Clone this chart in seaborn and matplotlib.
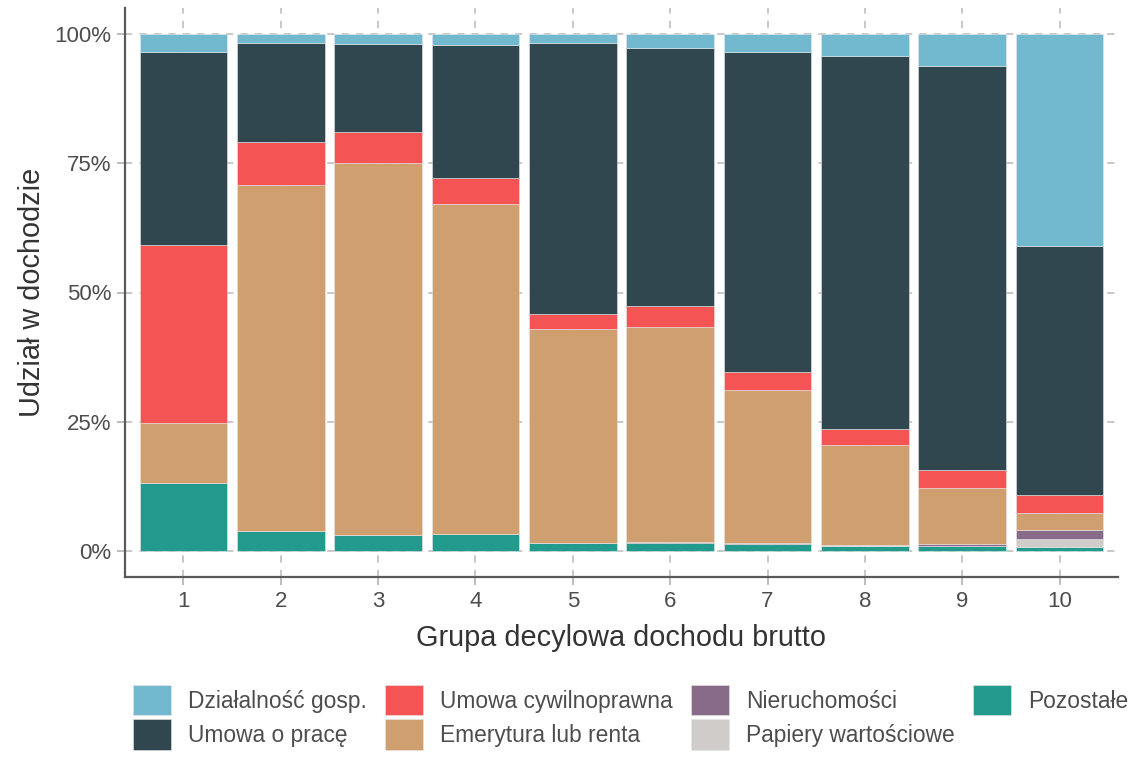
import matplotlib
matplotlib.use("Agg")
import matplotlib.pyplot as plt
import seaborn as sns
import pandas as pd
from matplotlib.ticker import PercentFormatter

groups = [1, 2, 3, 4, 5, 6, 7, 8, 9, 10]
categories = ["Działalność gosp.", "Umowa o pracę", "Umowa cywilnoprawna",
              "Emerytura lub renta", "Nieruchomości", "Papiery wartościowe", "Pozostałe"]
colors = ["#72b9cf", "#30474f", "#f55454", "#cf9f70", "#876b88", "#d0ccca", "#239b8c"]

dzialalnosc = [3.5, 1.7, 1.9, 2.1, 1.7, 2.7, 3.5, 4.2, 6.2, 41.1]
umowa_o_prace = [37.4, 19.3, 17.0, 25.7, 52.4, 50.0, 61.8, 72.1, 78.2, 48.0]
umowa_cywilna = [34.4, 8.3, 6.0, 5.0, 3.0, 3.9, 3.6, 3.2, 3.4, 3.6]
emerytura = [11.5, 66.8, 71.9, 63.8, 41.3, 41.7, 29.6, 19.3, 10.9, 3.3]
nieruchomosci = [0.0, 0.0, 0.1, 0.1, 0.1, 0.1, 0.1, 0.1, 0.3, 1.6]
papiery = [0.1, 0.0, 0.0, 0.0, 0.0, 0.0, 0.0, 0.1, 0.1, 1.6]
pozostale = [13.1, 3.9, 3.1, 3.3, 1.5, 1.6, 1.4, 1.0, 0.9, 0.8]

series = [dzialalnosc, umowa_o_prace, umowa_cywilna, emerytura,
          nieruchomosci, papiery, pozostale]

rows = []
for cat, vals in zip(categories, series):
    for g, v in zip(groups, vals):
        rows.append({"grupa": g, "udzial": v, "zrodlo": cat})
df = pd.DataFrame(rows)

sns.set_theme(style="white")
plt.rcParams["font.family"] = ["Liberation Sans", "DejaVu Sans"]
text_col = "#4d4d4d"

fig = plt.figure(figsize=(11.34, 7.67), dpi=100)
ax = fig.add_axes([125 / 1134, 1 - 577 / 767, (1118 - 125) / 1134, (577 - 8) / 767])

sns.histplot(data=df, x="grupa", weights="udzial", hue="zrodlo",
             hue_order=categories, palette=colors, multiple="stack",
             discrete=True, shrink=0.9, alpha=1, edgecolor="#e6e6e6",
             linewidth=0.4, ax=ax, zorder=2)

ax.set_xlim(0.4, 10.6)
ax.set_ylim(-5, 105)
ax.set_xticks(groups)
ax.set_xticklabels([str(g) for g in groups])
ax.set_yticks([0, 25, 50, 75, 100])
ax.yaxis.set_major_formatter(PercentFormatter(xmax=100, decimals=0))

ax.grid(True, axis="both", color="#c4c4c4", linestyle=(0, (4, 4)), linewidth=1.3, zorder=0)
ax.set_axisbelow(True)

for s in ["top", "right"]:
    ax.spines[s].set_visible(False)
for s in ["left", "bottom"]:
    ax.spines[s].set_color("#5a5a5a")
    ax.spines[s].set_linewidth(1.6)

ax.tick_params(axis="both", which="major", length=6, width=1.3, color="#b8b8b8",
               labelsize=16, labelcolor=text_col, pad=4, direction="out",
               bottom=True, left=True)

ax.set_xlabel("Grupa decylowa dochodu brutto", fontsize=20.8, color="#333333", labelpad=9)
ax.set_ylabel("Udział w dochodzie", fontsize=20.8, color="#333333", labelpad=6)

sns.move_legend(ax, "upper left", bbox_to_anchor=(133 / 1134, 1 - 685 / 767),
                bbox_transform=fig.transFigure, ncol=4, title=None, frameon=False,
                fontsize=16.4, handlelength=1.67, handleheight=1.67, labelspacing=0.18,
                handletextpad=0.75, columnspacing=0.8, borderpad=0, borderaxespad=0)
for t in ax.get_legend().get_texts():
    t.set_color(text_col)

fig.savefig("out.png", dpi=100)
